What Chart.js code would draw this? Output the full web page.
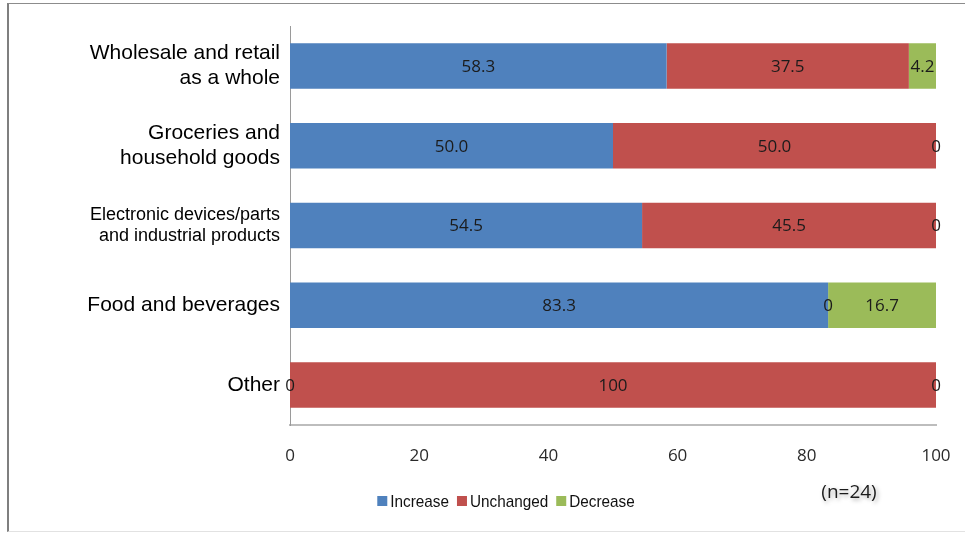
<!DOCTYPE html>
<html>
<head>
<meta charset="utf-8">
<script src="https://cdn.jsdelivr.net/npm/chart.js@4.4.1/dist/chart.umd.min.js"></script>
<style>
  html, body { margin: 0; padding: 0; background: #fff; overflow: hidden; }
  #frame {
    position: absolute; left: 7px; top: 3px; width: 970px; height: 527px;
    border-top: 1px solid #8c8c8c; border-left: 2px solid #7f7f7f; border-bottom: 1px solid #e2e2e2;
  }
  #wrap { position: absolute; left: 0; top: 0; width: 965px; height: 533px; }
</style>
</head>
<body>
<div id="frame"></div>
<div id="wrap"><canvas id="chart" width="965" height="533"></canvas></div>
<script>
/**categories, top to bottom */
const categories = [
    ["Wholesale and retail", "as a whole"],
    ["Groceries and", "household goods"],
    ["Electronic devices/parts", "and industrial products"],
    "Food and beverages",
    "Other",
];
/**share of answers (%) */
const increaseValues = [58.3, 50.0, 54.5, 83.3, 0];
const unchangedValues = [37.5, 50.0, 45.5, 0, 100];
const decreaseValues = [4.2, 0, 0, 16.7, 0];
/**text shown on each bar */
const increaseLabels = ["58.3", "50.0", "54.5", "83.3", "0"];
const unchangedLabels = ["37.5", "50.0", "45.5", "0", "100"];
const decreaseLabels = ["4.2", "0", "0", "16.7", "0"];
const xTicks = [0, 20, 40, 60, 80, 100];
const sampleNote = "(n=24)";

const NUM_FONT = "'Open Sans', sans-serif";
const CAT_FONT = "'Liberation Sans', Arial, sans-serif";

/**draws the numbers on the bars, the legend and the sample note */
const barText = {
    id: "barText",
    afterDatasetsDraw(chart) {
        const ctx = chart.ctx;
        ctx.save();
        ctx.font = "17px " + NUM_FONT;
        ctx.fillStyle = "#1b1b1b";
        ctx.textAlign = "center";
        ctx.textBaseline = "middle";
        chart.data.datasets.forEach((ds, i) => {
            const meta = chart.getDatasetMeta(i);
            meta.data.forEach((bar, j) => {
                const p = bar.getCenterPoint();
                ctx.fillText(ds.valueLabels[j], p.x, p.y + 1);
            });
        });
        ctx.restore();
    },
    afterDraw(chart) {
        const ctx = chart.ctx;
        ctx.save();
        // legend, narrow text like the original
        const squeeze = 0.9;
        ctx.font = "17px " + CAT_FONT;
        ctx.textBaseline = "middle";
        ctx.textAlign = "left";
        const items = chart.data.datasets.map((ds) => ({
            text: ds.label,
            color: ds.backgroundColor,
            w: 13 + ctx.measureText(ds.label).width * squeeze,
        }));
        const gap = 8;
        const total = items.reduce((s, it) => s + it.w, 0) + gap * (items.length - 1);
        let x = 506 - total / 2;
        const y = 502;
        items.forEach((it) => {
            ctx.fillStyle = it.color;
            ctx.fillRect(x, y - 6, 10, 10);
            ctx.save();
            ctx.translate(x + 13, y);
            ctx.scale(squeeze, 1);
            ctx.fillStyle = "#111";
            ctx.fillText(it.text, 0, 0);
            ctx.restore();
            x += it.w + gap;
        });
        // sample size note
        ctx.font = "19px " + NUM_FONT;
        ctx.textAlign = "center";
        ctx.fillStyle = "#1b1b1b";
        ctx.shadowColor = "rgba(0,0,0,0.35)";
        ctx.shadowBlur = 4;
        ctx.shadowOffsetX = 2;
        ctx.shadowOffsetY = 2;
        ctx.fillText(sampleNote, 849, 493);
        ctx.restore();
    },
};

new Chart(document.getElementById("chart"), {
    type: "bar",
    data: {
        labels: categories,
        datasets: [
            { label: "Increase", data: increaseValues, valueLabels: increaseLabels, backgroundColor: "#4f81bd" },
            { label: "Unchanged", data: unchangedValues, valueLabels: unchangedLabels, backgroundColor: "#c0504d" },
            { label: "Decrease", data: decreaseValues, valueLabels: decreaseLabels, backgroundColor: "#9bbb59" },
        ],
    },
    options: {
        indexAxis: "y",
        responsive: false,
        animation: false,
        categoryPercentage: 1,
        barPercentage: 0.57,
        layout: { padding: { left: 0, right: 29, top: 26, bottom: 48 } },
        plugins: {
            legend: { display: false },
            tooltip: { enabled: false },
            title: { display: false },
        },
        scales: {
            x: {
                stacked: true,
                min: 0,
                max: 100,
                afterBuildTicks: (scale) => {
                    scale.ticks = xTicks.map((v) => ({ value: v }));
                },
                afterFit: (scale) => {
                    scale.height = 60;
                    scale.paddingLeft = 0;
                    scale.paddingRight = 0;
                },
                grid: { display: false, drawTicks: false },
                border: { display: true, color: "#bdbdbd", width: 2 },
                ticks: {
                    padding: 21,
                    color: "#2a2a2a",
                    font: { family: NUM_FONT, size: 17 },
                    maxRotation: 0,
                },
            },
            y: {
                stacked: true,
                afterFit: (scale) => { scale.width = 290; },
                grid: { display: false, drawTicks: false },
                border: { display: true, color: "#9a9a9a", width: 1 },
                ticks: {
                    padding: 10,
                    color: "#000",
                    font: (c) => c.index === 2
                        ? { family: CAT_FONT, size: 18, lineHeight: 1.2 }
                        : { family: CAT_FONT, size: 21, lineHeight: 1.17 },
                },
            },
        },
    },
    plugins: [barText],
});
</script>
</body>
</html>
